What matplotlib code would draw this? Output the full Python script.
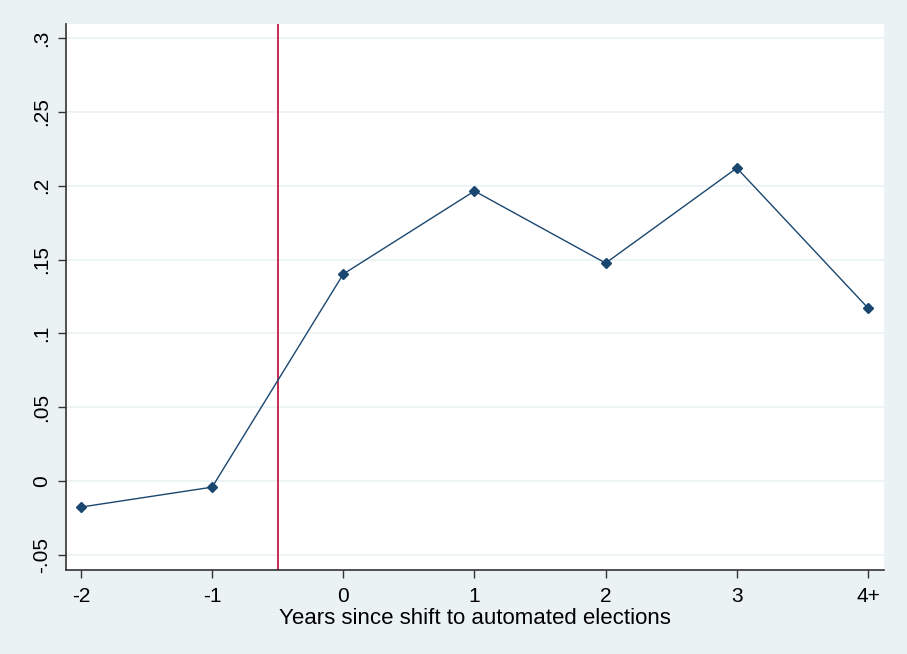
import matplotlib
matplotlib.use("Agg")
import matplotlib.pyplot as plt

plt.rcParams["font.family"] = ["Liberation Sans", "DejaVu Sans"]

years = [-2, -1, 0, 1, 2, 3, 4]
year_labels = ["-2", "-1", "0", "1", "2", "3", "4+"]
coef = [-0.0176, -0.0041, 0.1402, 0.1964, 0.1476, 0.2120, 0.1172]
y_ticks = [-0.05, 0, 0.05, 0.1, 0.15, 0.2, 0.25, 0.3]
y_labels = ["-.05", "0", ".05", ".1", ".15", ".2", ".25", ".3"]

bg = "#eaf2f3"
fig = plt.figure(figsize=(9.07, 6.54), dpi=100, facecolor=bg)
ax = fig.add_axes([66 / 907, 1 - 570 / 654, (884 - 66) / 907, (570 - 24) / 654])
ax.set_facecolor("white")

for t in y_ticks:
    ax.axhline(t, color=bg, lw=1.2, zorder=0)

ax.plot(years, coef, color="#1a476f", lw=1, marker="D", markersize=5, zorder=3)
ax.axvline(-0.5, color="#c10534", lw=1.2, zorder=2)

ax.set_xlim(-2.114, 4.122)
ax.set_ylim(-0.0602, 0.3095)
ax.set_xticks(years)
ax.set_xticklabels(year_labels, fontsize=15)
ax.set_yticks(y_ticks)
ax.set_yticklabels(y_labels, fontsize=15, rotation=90, va="center")
ax.tick_params(length=6, width=1, color="#333333")
ax.tick_params(axis="x", pad=6)
ax.tick_params(axis="y", pad=5)

for s in ["top", "right"]:
    ax.spines[s].set_visible(False)
for s in ["left", "bottom"]:
    ax.spines[s].set_color("#333333")
    ax.spines[s].set_linewidth(1.2)

ax.set_xlabel("Years since shift to automated elections", fontsize=16, labelpad=2)

fig.savefig("out.png", dpi=100, facecolor=bg)
